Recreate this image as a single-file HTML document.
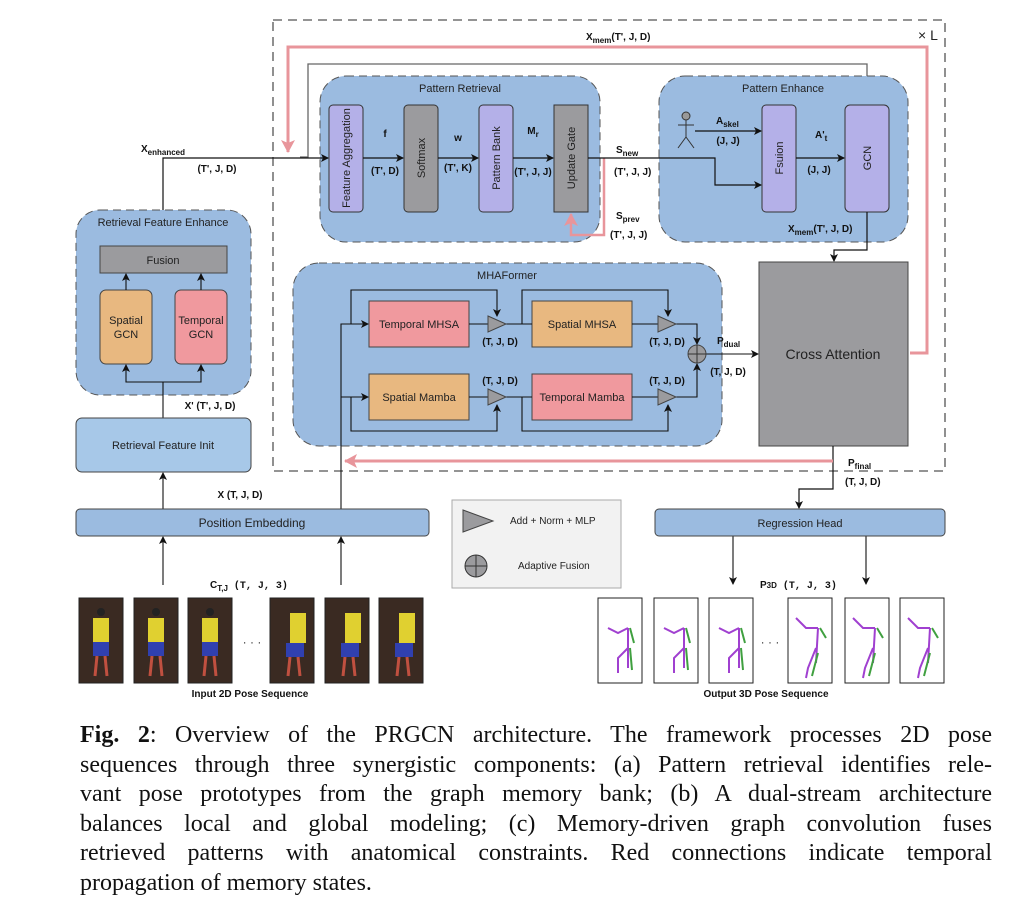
<!DOCTYPE html>
<html><head><meta charset="utf-8"><style>
html,body{margin:0;padding:0;background:#fff;}
body{width:1027px;height:903px;position:relative;overflow:hidden;font-family:"Liberation Sans",sans-serif;}
svg{position:absolute;left:0;top:0;}
.cap{position:absolute;left:80px;top:721px;width:912px;font-family:"Liberation Serif",serif;font-size:24px;line-height:29.5px;color:#111;}
.cap div{text-align:justify;text-align-last:justify;white-space:nowrap;}
.cap div.last{text-align-last:left;}
text{font-family:"Liberation Sans",sans-serif;}
.l{font-size:10px;font-weight:bold;fill:#111;}
.b{font-size:11px;fill:#222;}
</style></head><body>
<svg width="1027" height="903" viewBox="0 0 1027 903">
<defs>
<marker id="a" markerWidth="8" markerHeight="8" refX="7" refY="4" orient="auto" markerUnits="userSpaceOnUse"><path d="M0,0 L8,4 L0,8 L2,4z" fill="#111"/></marker>
<marker id="p" markerWidth="14" markerHeight="14" refX="12" refY="7" orient="auto" markerUnits="userSpaceOnUse"><path d="M0,0 L13,7 L0,14 L3,7z" fill="#e8959b"/></marker>
</defs>
<rect x="273" y="20" width="672" height="451" fill="none" stroke="#555" stroke-width="1.3" stroke-dasharray="9,6"/>
<text x="918" y="40" font-size="14" fill="#222">× L</text>
<path d="M300,157 H308 V64 H867 V104" fill="none" stroke="#666" stroke-width="1.3" marker-end="url(#a)"/>
<path d="M910,353 H927 V47 H288 V152" fill="none" stroke="#e8959b" stroke-width="3" marker-end="url(#p)"/>
<text x="586" y="40" class="l" font-size="10">X<tspan font-size="8" dy="3">mem</tspan><tspan dy="-3">(T', J, D)</tspan></text>
<rect x="320" y="76" width="280" height="166" rx="26" fill="#9bbbe0" stroke="#555" stroke-dasharray="8,5"/>
<text x="460" y="92" class="b" text-anchor="middle">Pattern Retrieval</text>
<rect x="329" y="105" width="34" height="107" rx="4" fill="#b4b0e8" stroke="#333"/>
<rect x="404" y="105" width="34" height="107" rx="4" fill="#9b9b9e" stroke="#333"/>
<rect x="479" y="105" width="34" height="107" rx="4" fill="#b4b0e8" stroke="#333"/>
<rect x="554" y="105" width="34" height="107" fill="#9b9b9e" stroke="#333"/>
<text transform="translate(350,158) rotate(-90)" class="b" text-anchor="middle">Feature Aggregation</text>
<text transform="translate(425,158) rotate(-90)" class="b" text-anchor="middle">Softmax</text>
<text transform="translate(500,158) rotate(-90)" class="b" text-anchor="middle">Pattern Bank</text>
<text transform="translate(575,158) rotate(-90)" class="b" text-anchor="middle">Update Gate</text>
<path d="M163,210 V158 H328" fill="none" stroke="#111" stroke-width="1.2" marker-end="url(#a)"/>
<path d="M363,158 H403" stroke="#111" stroke-width="1.2" marker-end="url(#a)"/>
<path d="M438,158 H478" stroke="#111" stroke-width="1.2" marker-end="url(#a)"/>
<path d="M513,158 H553" stroke="#111" stroke-width="1.2" marker-end="url(#a)"/>
<text x="385" y="137" class="l" text-anchor="middle">f</text>
<text x="385" y="174" class="l" text-anchor="middle">(T',  D)</text>
<text x="458" y="141" class="l" text-anchor="middle">w</text>
<text x="458" y="171" class="l" text-anchor="middle">(T', K)</text>
<text x="533" y="134" class="l" text-anchor="middle">M<tspan font-size="8" dy="3">r</tspan></text>
<text x="533" y="175" class="l" text-anchor="middle">(T', J, J)</text>
<path d="M604,158 V235 H571 V214" fill="none" stroke="#e8959b" stroke-width="2.5" marker-end="url(#p)"/>
<text x="616" y="153" class="l">S<tspan font-size="8" dy="3">new</tspan></text>
<text x="614" y="175" class="l">(T', J, J)</text>
<text x="616" y="219" class="l">S<tspan font-size="8" dy="3">prev</tspan></text>
<text x="610" y="238" class="l">(T', J, J)</text>
<rect x="659" y="76" width="249" height="166" rx="26" fill="#9bbbe0" stroke="#555" stroke-dasharray="8,5"/>
<text x="783" y="92" class="b" text-anchor="middle">Pattern Enhance</text>
<circle cx="686" cy="116" r="4" fill="#999" stroke="#333"/>
<path d="M686,120 V137 M678,125 H694 M686,137 L678,148 M686,137 L694,148" stroke="#333" fill="none"/>
<rect x="762" y="105" width="34" height="107" rx="4" fill="#b4b0e8" stroke="#333"/>
<rect x="845" y="105" width="44" height="107" rx="5" fill="#b4b0e8" stroke="#333"/>
<text transform="translate(783,158) rotate(-90)" class="b" text-anchor="middle">Fsuion</text>
<text transform="translate(871,158) rotate(-90)" class="b" text-anchor="middle">GCN</text>
<path d="M588,158 H715 V185 H761" fill="none" stroke="#111" stroke-width="1.2" marker-end="url(#a)"/>
<path d="M695,131 H761" stroke="#111" stroke-width="1.2" marker-end="url(#a)"/>
<path d="M796,158 H844" stroke="#111" stroke-width="1.2" marker-end="url(#a)"/>
<text x="716" y="124" class="l">A<tspan font-size="8" dy="3">skel</tspan></text>
<text x="728" y="144" class="l" text-anchor="middle">(J, J)</text>
<text x="815" y="138" class="l">A'<tspan font-size="8" dy="3">t</tspan></text>
<text x="819" y="173" class="l" text-anchor="middle">(J, J)</text>
<text x="788" y="232" class="l">X<tspan font-size="8" dy="3">mem</tspan><tspan dy="-3">(T', J, D)</tspan></text>
<path d="M867,212 V250 H834 V261" fill="none" stroke="#111" stroke-width="1.2" marker-end="url(#a)"/>
<rect x="759" y="262" width="149" height="184" fill="#9b9b9e" stroke="#444"/>
<text x="833" y="359" font-size="14" fill="#222" text-anchor="middle">Cross Attention</text>
<path d="M833,446 V489 H799 V508" fill="none" stroke="#111" stroke-width="1.2" marker-end="url(#a)"/>
<path d="M833,461 H345" fill="none" stroke="#e8959b" stroke-width="3" marker-end="url(#p)"/>
<text x="848" y="466" class="l">P<tspan font-size="8" dy="3">final</tspan></text>
<text x="845" y="485" class="l">(T, J, D)</text>
<rect x="293" y="263" width="429" height="183" rx="26" fill="#9bbbe0" stroke="#555" stroke-dasharray="8,5"/>
<text x="507" y="279" class="b" text-anchor="middle">MHAFormer</text>
<rect x="369" y="301" width="100" height="46" fill="#f0999e" stroke="#444"/>
<rect x="532" y="301" width="100" height="46" fill="#e8b880" stroke="#444"/>
<rect x="369" y="374" width="100" height="46" fill="#e8b880" stroke="#444"/>
<rect x="532" y="374" width="100" height="46" fill="#f0999e" stroke="#444"/>
<text x="419" y="328" class="b" text-anchor="middle">Temporal MHSA</text>
<text x="582" y="328" class="b" text-anchor="middle">Spatial MHSA</text>
<text x="419" y="401" class="b" text-anchor="middle">Spatial Mamba</text>
<text x="582" y="401" class="b" text-anchor="middle">Temporal Mamba</text>
<g fill="none" stroke="#111" stroke-width="1.1">
<path d="M341,510 V324 H368" marker-end="url(#a)"/>
<path d="M341,397 H368" marker-end="url(#a)"/>
<path d="M351,324 V290 H497 V316" marker-end="url(#a)"/>
<path d="M351,397 V431 H497 V405" marker-end="url(#a)"/>
<path d="M469,324 H488 M505,324 H532 M469,397 H488 M505,397 H532"/>
<path d="M522,324 V290 H668 V316" marker-end="url(#a)"/>
<path d="M522,397 V431 H668 V405" marker-end="url(#a)"/>
<path d="M632,324 H658 M632,397 H658"/>
<path d="M676,324 H697 V344" marker-end="url(#a)"/>
<path d="M676,397 H697 V364" marker-end="url(#a)"/>
<path d="M706,354 H758" marker-end="url(#a)"/>
</g>
<g fill="#9b9b9e" stroke="#444">
<path d="M488,316 L506,324 L488,332z"/><path d="M488,389 L506,397 L488,405z"/>
<path d="M658,316 L676,324 L658,332z"/><path d="M658,389 L676,397 L658,405z"/>
<circle cx="697" cy="354" r="9"/>
</g>
<path d="M688,354 H706 M697,345 V363" stroke="#333"/>
<text x="500" y="345" class="l" text-anchor="middle">(T, J, D)</text>
<text x="500" y="384" class="l" text-anchor="middle">(T, J, D)</text>
<text x="667" y="345" class="l" text-anchor="middle">(T, J, D)</text>
<text x="667" y="384" class="l" text-anchor="middle">(T, J, D)</text>
<text x="717" y="344" class="l">P<tspan font-size="8" dy="3">dual</tspan></text>
<text x="728" y="375" class="l" text-anchor="middle">(T, J, D)</text>
<rect x="76" y="210" width="175" height="185" rx="24" fill="#9bbbe0" stroke="#555" stroke-dasharray="8,5"/>
<text x="163" y="226" class="b" text-anchor="middle">Retrieval Feature Enhance</text>
<rect x="100" y="246" width="127" height="27" fill="#9b9b9e" stroke="#444"/>
<text x="163" y="264" class="b" text-anchor="middle">Fusion</text>
<rect x="100" y="290" width="52" height="74" rx="6" fill="#e8b880" stroke="#444"/>
<rect x="175" y="290" width="52" height="74" rx="6" fill="#f0999e" stroke="#444"/>
<text x="126" y="324" class="b" text-anchor="middle">Spatial</text><text x="126" y="338" class="b" text-anchor="middle">GCN</text>
<text x="201" y="324" class="b" text-anchor="middle">Temporal</text><text x="201" y="338" class="b" text-anchor="middle">GCN</text>
<g fill="none" stroke="#111" stroke-width="1.1">
<path d="M126,290 V274" marker-end="url(#a)"/><path d="M201,290 V274" marker-end="url(#a)"/>
<path d="M163,418 V382 H126 V365" marker-end="url(#a)"/><path d="M163,382 H201 V365" marker-end="url(#a)"/>
<path d="M163,509 V473" marker-end="url(#a)"/>
<path d="M163,585 V537" marker-end="url(#a)"/><path d="M341,585 V537" marker-end="url(#a)"/>
<path d="M733,536 V584" marker-end="url(#a)"/><path d="M866,536 V584" marker-end="url(#a)"/>
</g>
<text x="163" y="152" class="l" text-anchor="middle">X<tspan font-size="8" dy="3">enhanced</tspan></text>
<text x="217" y="172" class="l" text-anchor="middle">(T',  J,  D)</text>
<text x="210" y="409" class="l" text-anchor="middle">X' (T',  J,  D)</text>
<rect x="76" y="418" width="175" height="54" rx="6" fill="#a7c8e8" stroke="#444"/>
<text x="163" y="449" class="b" text-anchor="middle">Retrieval Feature Init</text>
<text x="240" y="498" class="l" text-anchor="middle">X (T,  J,  D)</text>
<rect x="76" y="509" width="353" height="27" rx="4" fill="#9bbbe0" stroke="#444"/>
<text x="252" y="527" font-family="Liberation Mono" font-size="12" fill="#222" text-anchor="middle">Position Embedding</text>
<rect x="655" y="509" width="290" height="27" rx="4" fill="#9bbbe0" stroke="#444"/>
<text x="800" y="527" class="b" text-anchor="middle">Regression Head</text>
<rect x="452" y="500" width="169" height="88" fill="#f2f2f2" stroke="#aaa"/>
<path d="M463,510 L493,521 L463,532z" fill="#9b9b9e" stroke="#444"/>
<text x="510" y="524" font-size="10" fill="#222">Add + Norm + MLP</text>
<circle cx="476" cy="566" r="11" fill="#9b9b9e" stroke="#333"/>
<path d="M465,566 H487 M476,555 V577" stroke="#333"/>
<text x="518" y="569" font-size="10" fill="#222">Adaptive Fusion</text>
<text x="210" y="588" class="l">C<tspan font-size="8" dy="3">T,J</tspan><tspan dy="-3" font-family="Liberation Mono"> (T, J, 3)</tspan></text>
<text x="760" y="588" class="l">P<tspan font-size="8">3D</tspan><tspan font-family="Liberation Mono"> (T, J, 3)</tspan></text>
<g>
<g transform="translate(79,598)"><rect width="44" height="85" fill="#3a2a22" stroke="#222"/><rect x="14" y="20" width="16" height="24" fill="#e0d030"/><rect x="14" y="44" width="16" height="14" fill="#3040b0"/><path d="M18,58 L16,78 M26,58 L28,78" stroke="#c05040" stroke-width="3"/><circle cx="22" cy="14" r="4" fill="#222"/></g>
<g transform="translate(134,598)"><rect width="44" height="85" fill="#3a2a22" stroke="#222"/><rect x="14" y="20" width="16" height="24" fill="#e0d030"/><rect x="14" y="44" width="16" height="14" fill="#3040b0"/><path d="M18,58 L16,78 M26,58 L28,78" stroke="#c05040" stroke-width="3"/><circle cx="22" cy="14" r="4" fill="#222"/></g>
<g transform="translate(188,598)"><rect width="44" height="85" fill="#3a2a22" stroke="#222"/><rect x="14" y="20" width="16" height="24" fill="#e0d030"/><rect x="14" y="44" width="16" height="14" fill="#3040b0"/><path d="M18,58 L16,78 M26,58 L28,78" stroke="#c05040" stroke-width="3"/><circle cx="22" cy="14" r="4" fill="#222"/></g>
<g transform="translate(270,598)"><rect width="44" height="85" fill="#3a2a22" stroke="#222"/><rect x="20" y="15" width="16" height="30" fill="#e0d030"/><rect x="16" y="45" width="18" height="14" fill="#3040b0"/><path d="M20,59 L18,78 M28,59 L30,78" stroke="#c05040" stroke-width="3"/></g>
<g transform="translate(325,598)"><rect width="44" height="85" fill="#3a2a22" stroke="#222"/><rect x="20" y="15" width="16" height="30" fill="#e0d030"/><rect x="16" y="45" width="18" height="14" fill="#3040b0"/><path d="M20,59 L18,78 M28,59 L30,78" stroke="#c05040" stroke-width="3"/></g>
<g transform="translate(379,598)"><rect width="44" height="85" fill="#3a2a22" stroke="#222"/><rect x="20" y="15" width="16" height="30" fill="#e0d030"/><rect x="16" y="45" width="18" height="14" fill="#3040b0"/><path d="M20,59 L18,78 M28,59 L30,78" stroke="#c05040" stroke-width="3"/></g>
</g>
<text x="252" y="646" font-size="12" fill="#333" text-anchor="middle">· · ·</text>
<text x="250" y="697" font-size="10" font-weight="bold" fill="#111" text-anchor="middle">Input 2D Pose Sequence</text>
<g fill="none" stroke-width="2">
<g transform="translate(598,598)"><rect width="44" height="85" fill="#fff" stroke="#222" stroke-width="1"/><path d="M10,30 L20,35 L30,30 M30,30 L30,70 M30,50 L20,60 L20,75" stroke="#a040d0"/><path d="M32,30 L36,45 M32,50 L34,72" stroke="#40a040"/></g>
<g transform="translate(654,598)"><rect width="44" height="85" fill="#fff" stroke="#222" stroke-width="1"/><path d="M10,30 L20,35 L30,30 M30,30 L30,70 M30,50 L20,60 L20,75" stroke="#a040d0"/><path d="M32,30 L36,45 M32,50 L34,72" stroke="#40a040"/></g>
<g transform="translate(709,598)"><rect width="44" height="85" fill="#fff" stroke="#222" stroke-width="1"/><path d="M10,30 L20,35 L30,30 M30,30 L30,70 M30,50 L20,60 L20,75" stroke="#a040d0"/><path d="M32,30 L36,45 M32,50 L34,72" stroke="#40a040"/></g>
<g transform="translate(788,598)"><rect width="44" height="85" fill="#fff" stroke="#222" stroke-width="1"/><path d="M8,20 L18,30 L30,30 M30,30 L28,65 M28,50 L20,70 L18,80" stroke="#a040d0"/><path d="M32,30 L38,40 M30,55 L24,78" stroke="#40a040"/></g>
<g transform="translate(845,598)"><rect width="44" height="85" fill="#fff" stroke="#222" stroke-width="1"/><path d="M8,20 L18,30 L30,30 M30,30 L28,65 M28,50 L20,70 L18,80" stroke="#a040d0"/><path d="M32,30 L38,40 M30,55 L24,78" stroke="#40a040"/></g>
<g transform="translate(900,598)"><rect width="44" height="85" fill="#fff" stroke="#222" stroke-width="1"/><path d="M8,20 L18,30 L30,30 M30,30 L28,65 M28,50 L20,70 L18,80" stroke="#a040d0"/><path d="M32,30 L38,40 M30,55 L24,78" stroke="#40a040"/></g>
</g>
<text x="770" y="646" font-size="12" fill="#333" text-anchor="middle">· · ·</text>
<text x="766" y="697" font-size="10" font-weight="bold" fill="#111" text-anchor="middle">Output 3D Pose Sequence</text>
</svg>
<div class="cap">
<div><b>Fig. 2</b>: Overview of the PRGCN architecture. The framework processes 2D pose</div>
<div>sequences through three synergistic components: (a) Pattern retrieval identifies rele-</div>
<div>vant pose prototypes from the graph memory bank; (b) A dual-stream architecture</div>
<div>balances local and global modeling; (c) Memory-driven graph convolution fuses</div>
<div>retrieved patterns with anatomical constraints. Red connections indicate temporal</div>
<div class="last">propagation of memory states.</div>
</div>
</body></html>
